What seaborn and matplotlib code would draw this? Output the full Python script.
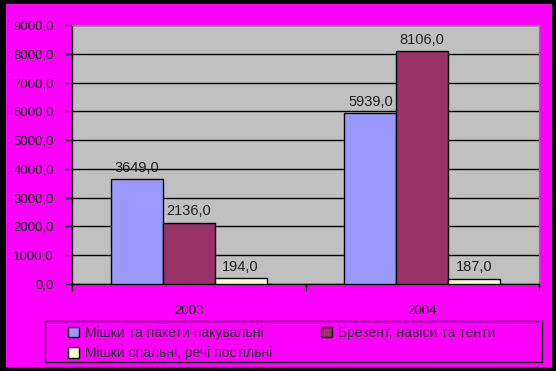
import matplotlib
matplotlib.use("Agg")
import matplotlib.pyplot as plt
from matplotlib.patches import Rectangle, Patch
import seaborn as sns
import pandas as pd

years = ["2003", "2004"]
series = ["Мішки та пакети пакувальні", "Брезент, навіси та тенти", "Мішки спальні, речі постільні"]
bags = [3649.0, 5939.0]
tarps = [2136.0, 8106.0]
sleeping = [194.0, 187.0]
colors = ["#9999FF", "#993366", "#FFFFCC"]
yticks = [0, 1000, 2000, 3000, 4000, 5000, 6000, 7000, 8000, 9000]

rows = []
for s, vals in zip(series, [bags, tarps, sleeping]):
    for y, v in zip(years, vals):
        rows.append({"year": y, "series": s, "value": v})
df = pd.DataFrame(rows)

sns.set_theme(style="white")
plt.rcParams["font.family"] = ["Liberation Sans", "DejaVu Sans"]

W, H = 556, 371
fig = plt.figure(figsize=(W / 100, H / 100), dpi=100, facecolor="black")
fig.patches.append(Rectangle((6 / W, 4 / H), 546 / W, 363 / H, transform=fig.transFigure,
                             facecolor="#FF00FF", edgecolor="none", zorder=-10))
# legend frame
fig.patches.append(Rectangle((45 / W, 1 - 362 / H), (542 - 45) / W, 41 / H, transform=fig.transFigure,
                             facecolor="none", edgecolor="black", linewidth=1, zorder=5))
ax = fig.add_axes([72 / W, 1 - 284 / H, (539 - 72) / W, (284 - 25) / H])
ax.set_zorder(2)
ax.set_facecolor("#C0C0C0")

sns.barplot(data=df, x="year", y="value", hue="series", palette=colors, width=0.667,
            edgecolor="black", linewidth=1, saturation=1, ax=ax, legend=False, zorder=3)

ax.set_ylim(0, 9000)
ax.set_xlim(-0.5, 1.5)
ax.set_yticks(yticks)
ax.set_yticklabels([f"{v:.1f}".replace(".", ",") for v in yticks], fontsize=9.5, color="black")
ax.yaxis.grid(True, color="black", linewidth=1, zorder=1)
ax.set_axisbelow(True)

ax.set_xticks([-0.5, 0.5, 1.5])
ax.set_xticklabels(["", "", ""])
ax.set_xticks([0, 1], minor=True)
ax.set_xticklabels(years, minor=True, fontsize=9.5, color="black")
ax.tick_params(axis="x", which="major", length=5, width=1, color="black", direction="out", bottom=True)
ax.tick_params(axis="x", which="minor", length=0, pad=15)
ax.tick_params(axis="y", length=5, width=1, color="black", direction="out", left=True, pad=8)
ax.set_xlabel("")
ax.set_ylabel("")

for side in ["left", "bottom"]:
    ax.spines[side].set_color("black")
    ax.spines[side].set_linewidth(1)
for side in ["top", "right"]:
    ax.spines[side].set_color("#808080")
    ax.spines[side].set_linewidth(1)
    ax.spines[side].set_visible(True)

for cont in ax.containers:
    labels = [f"{v:.1f}".replace(".", ",") for v in cont.datavalues]
    ax.bar_label(cont, labels=labels, padding=3, fontsize=10.5, color="#202020")

handles = [Patch(facecolor=c, edgecolor="black", linewidth=1) for c in colors]
# row-wise order: bags, tarps on first row; sleeping on second
order = [0, 2, 1]
leg = fig.legend([handles[i] for i in order], [series[i] for i in order], loc="upper left",
                 bbox_to_anchor=(68 / W, 1 - 326 / H), ncol=2, frameon=False, fontsize=10,
                 handlelength=0.8, handleheight=0.8, handletextpad=0.4, borderpad=0,
                 labelspacing=0.45, columnspacing=3.55, borderaxespad=0)

fig.savefig("out.png", dpi=100, facecolor="black")
